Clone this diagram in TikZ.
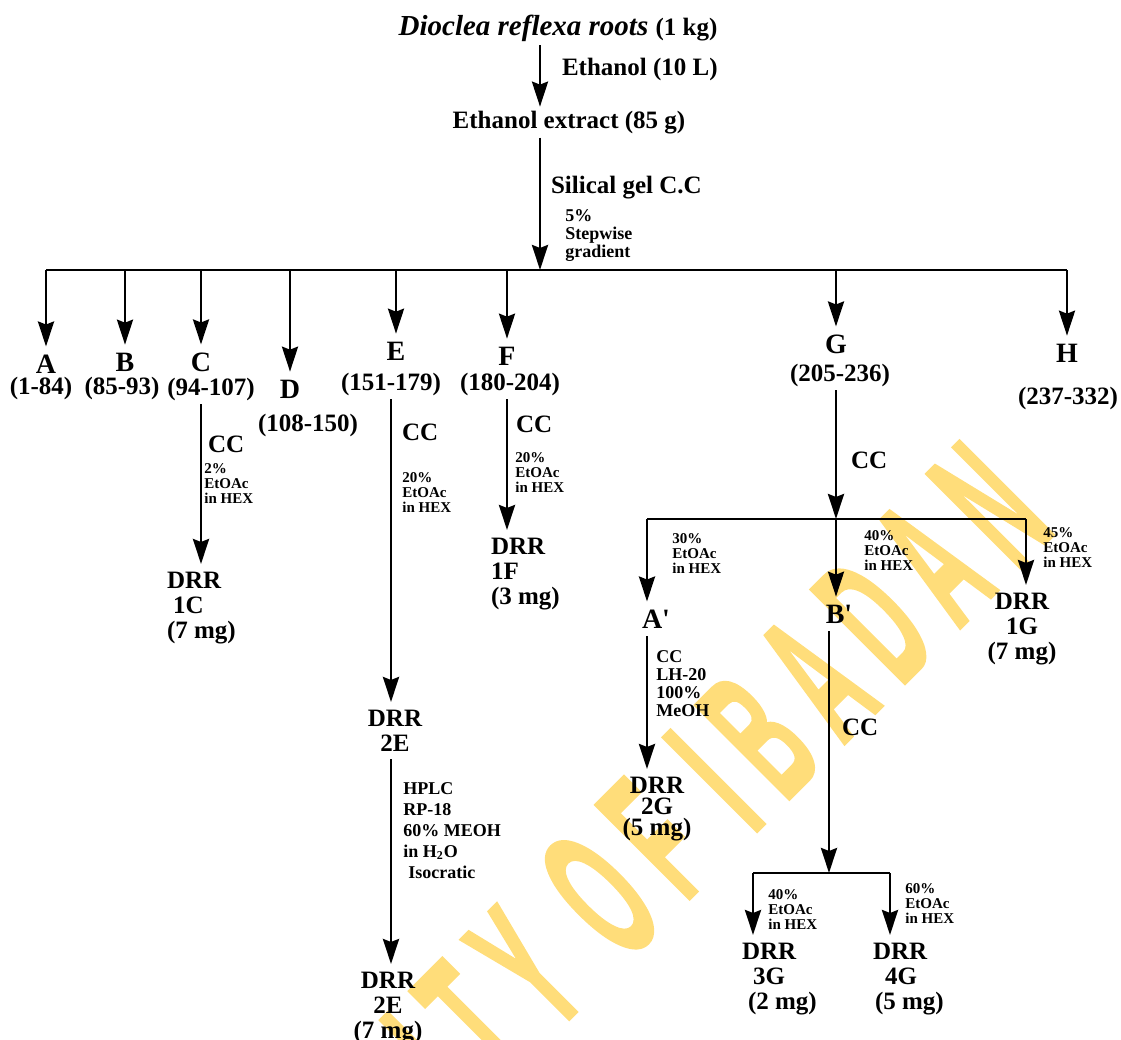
\documentclass[tikz,border=0pt]{standalone}
\usepackage{fontspec}
\setmainfont{Liberation Serif}
\newfontfamily\wmfont[LetterSpace=28,FakeBold=2]{Liberation Sans}
\usetikzlibrary{arrows.meta}
\definecolor{watermark}{HTML}{FFDD7A}

\begin{document}
\begin{tikzpicture}[x=0.5pt,y=-0.5pt,
  txt/.style={font=\fontsize{12.5}{12.5}\selectfont\bfseries,inner sep=0pt,outer sep=2pt},
  frac/.style={font=\fontsize{14}{14}\selectfont\bfseries,inner sep=0pt,outer sep=4pt},
  drr/.style={txt,outer sep=4pt},
  solv/.style={font=\fontsize{7.5}{7.5}\selectfont\bfseries,inner sep=0pt,align=left,anchor=north west},
  cond/.style={font=\fontsize{9}{9}\selectfont\bfseries,inner sep=0pt,align=left,anchor=north west},
  arr/.style={-{Stealth[length=12.5pt,width=8pt,inset=1.5pt]},line width=1.4pt},
  bar/.style={line width=1.4pt}]
  \useasboundingbox (0,0) rectangle (1121,1040);

  % Watermark
  \begin{scope}
    \clip (0,0) rectangle (1121,1040);
    \node[watermark,anchor=base east,rotate=45,inner sep=0pt,font=\wmfont\bfseries\fontsize{60}{60}\selectfont] (wm) at (1058,530) {\scalebox{0.68}[1.6]{UNIVERSITY OF IBADAN}};
  \end{scope}

  % Extraction
  \node[txt,anchor=base] (root) at (558,35) {\fontsize{14.5}{14.5}\selectfont\itshape Dioclea reflexa roots \upshape\fontsize{12.5}{12.5}\selectfont(1 kg)};
  \node[txt,anchor=base west] (etoh) at (558,75) {Ethanol (10 L)};
  \node[txt,anchor=base] (extract) at (569,128) {Ethanol extract (85 g)};
  \node[txt,anchor=base west] (silica) at (547,193) {Silical gel C.C};
  \node[cond] (grad) at (565,209) {5\%\\Stepwise\\gradient};
  \coordinate (spine) at (540,0);
  \coordinate (barL) at (46,270);
  \coordinate (barR) at (1067,270);
  \draw[arr] (root.south -| spine) -- (extract.north -| spine);
  \draw[arr] (extract.south -| spine) -- (barL -| spine);
  \draw[bar] (barL) -- (barR);

  % Fractions
  \node[frac,anchor=base] (A) at (46,373) {A};
  \node[frac,anchor=base] (B) at (125,371) {B};
  \node[frac,anchor=base] (C) at (201,371) {C};
  \node[frac,anchor=base] (D) at (290,398) {D};
  \node[frac,anchor=base] (E) at (396,360) {E};
  \node[frac,anchor=base] (F) at (507,365) {F};
  \node[frac,anchor=base] (G) at (836,353) {G};
  \node[frac,anchor=base] (H) at (1067,362) {H};
  \foreach \f in {A,B,C,D,E,F,G,H}
    \draw[arr] (barL -| \f) -- (\f.north);
  \node[txt,anchor=base] (rA) at (41,394) {(1-84)};
  \node[txt,anchor=base] (rB) at (122,394) {(85-93)};
  \node[txt,anchor=base] (rC) at (211,395) {(94-107)};
  \node[txt,anchor=base] (rD) at (308,431) {(108-150)};
  \node[txt,anchor=base] (rE) at (391,390) {(151-179)};
  \node[txt,anchor=base] (rF) at (510,390) {(180-204)};
  \node[txt,anchor=base] (rG) at (840,381) {(205-236)};
  \node[txt,anchor=base] (rH) at (1068,404) {(237-332)};

  % C
  \node[txt,anchor=base west] (ccC) at (204,452) {CC};
  \node[solv] (sC) at (204,463) {2\%\\EtOAc\\in HEX};
  \node[drr,anchor=north west,align=left] (drr1C) at (159,564) {DRR\\\hspace*{3pt}1C\\(7 mg)};
  \draw[arr] (rC.south -| C) -- (drr1C.north -| C);

  % E
  \node[txt,anchor=base west] (ccE) at (398,440) {CC};
  \node[solv] (sE) at (402,472) {20\%\\EtOAc\\in HEX};
  \node[drr,anchor=north,align=center] (drr2E) at (395,702) {DRR\\2E};
  \node[cond,font=\fontsize{9}{10.5}\selectfont\bfseries] (hplc) at (403,782) {HPLC\\RP-18\\60\% MEOH\\in H\textsubscript{2}O\\\hspace*{2.5pt}Isocratic};
  \node[drr,anchor=north,align=center] (drr2Eb) at (388,964) {DRR\\2E\\(7 mg)};
  \draw[arr] (rE.south) -- (rE.south |- drr2E.north);
  \draw[arr] (rE.south |- drr2E.south) -- (rE.south |- drr2Eb.north);

  % F
  \node[txt,anchor=base west] (ccF) at (512,432) {CC};
  \node[solv] (sF) at (515,452) {20\%\\EtOAc\\in HEX};
  \node[drr,anchor=north west,align=left] (drr1F) at (483,530) {DRR\\1F\\(3 mg)};
  \draw[arr] (rF.south -| F) -- (drr1F.north -| F);

  % G
  \node[txt,anchor=base west] (ccG) at (847,468) {CC};
  \coordinate (gL) at (647,519);
  \coordinate (gM) at (836,519);
  \coordinate (gR) at (1026,519);
  \draw[arr] (rG.south -| gM) -- (gM);
  \draw[bar] (gL) -- (gR);
  \node[frac,anchor=base] (Ap) at (656,628) {A\textquotesingle};
  \node[frac,anchor=base] (Bp) at (839,623) {B\textquotesingle};
  \node[drr,anchor=north,align=center] (drr1G) at (1022,585) {DRR\\1G\\(7 mg)};
  \node[solv] (sA) at (672,533) {30\%\\EtOAc\\in HEX};
  \node[solv] (sB) at (864,530) {40\%\\EtOAc\\in HEX};
  \node[solv] (s1G) at (1043,527) {45\%\\EtOAc\\in HEX};
  \draw[arr] (gL) -- (gL |- Ap.north);
  \draw[arr] (gM) -- (gM |- Bp.north);
  \draw[arr] (gR) -- (gR |- drr1G.north);

  % A' -> 2G
  \node[cond] (lh) at (656,650) {CC\\LH-20\\100\%\\MeOH};
  \node[drr,anchor=north,align=center,font=\fontsize{12.5}{10.5}\selectfont\bfseries] (drr2G) at (657,769) {DRR\\2G\\(5 mg)};
  \draw[arr] (gL |- Ap.south) -- (gL |- drr2G.north);

  % B' -> 3G, 4G
  \node[txt,anchor=base west] (ccB) at (838,735) {CC};
  \coordinate (bL) at (753,873);
  \coordinate (bM) at (829,873);
  \coordinate (bR) at (890,873);
  \draw[arr] (bM |- Bp.south) -- (bM);
  \draw[bar] (bL) -- (bR);
  \node[solv] (s3G) at (768,889) {40\%\\EtOAc\\in HEX};
  \node[solv] (s4G) at (905,883) {60\%\\EtOAc\\in HEX};
  \node[drr,anchor=north west,align=left] (drr3G) at (734,935) {DRR\\\hspace*{5.5pt}3G\\\hspace*{3pt}(2 mg)};
  \node[drr,anchor=north west,align=left] (drr4G) at (865,935) {DRR\\\hspace*{6pt}4G\\\hspace*{1pt}(5 mg)};
  \draw[arr] (bL) -- (bL |- drr3G.north);
  \draw[arr] (bR) -- (bR |- drr4G.north);
\end{tikzpicture}
\end{document}
